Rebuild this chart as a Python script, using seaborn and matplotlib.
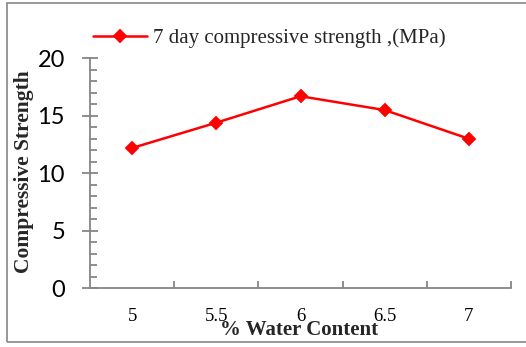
import matplotlib
matplotlib.use("Agg")
import matplotlib.pyplot as plt
import seaborn as sns
import pandas as pd
from matplotlib.patches import Rectangle
from matplotlib.ticker import MultipleLocator, FixedLocator

water_content = ["5", "5.5", "6", "6.5", "7"]
strength_7day = [12.2, 14.4, 16.7, 15.5, 13.0]
series_label = "7 day compressive strength ,(MPa)"
x_label = "% Water Content"
y_label = "Compressive Strength"
y_ticks = [0, 5, 10, 15, 20]

df = pd.DataFrame({"water": water_content, "strength": strength_7day})

sns.set_style("white")
fig = plt.figure(figsize=(5.26, 3.47), dpi=100)
ax = fig.add_axes([90/526, 1-288.3/347, (511-90)/526, (288.3-58.3)/347])

sns.pointplot(data=df, x="water", y="strength", color="#FF0000", markers="D",
              linewidth=1.8, markersize=6, ax=ax, label=series_label, errorbar=None)

ax.set_xlim(-0.5, 4.5)
ax.set_ylim(0, 20)
grey = "#868686"
for s in ["top", "right"]:
    ax.spines[s].set_visible(False)
for s in ["left", "bottom"]:
    ax.spines[s].set_color(grey)
    ax.spines[s].set_linewidth(1.3)

ax.set_yticks(y_ticks)
ax.yaxis.set_minor_locator(MultipleLocator(1))
ax.tick_params(axis="y", which="major", direction="inout", length=12, width=1.3,
               color=grey, left=True, pad=12, labelsize=17, labelcolor="black")
ax.tick_params(axis="y", which="minor", direction="in", length=5, width=1.3,
               color=grey, left=True)
for t in ax.get_yticklabels():
    t.set_fontfamily("Lato")

ax.set_xticks(range(len(water_content)))
ax.set_xticklabels(water_content)
ax.xaxis.set_minor_locator(FixedLocator([0.5, 1.5, 2.5, 3.5, 4.5]))
ax.tick_params(axis="x", which="major", length=0, pad=14, labelsize=13.5, labelcolor="black")
ax.tick_params(axis="x", which="minor", direction="in", length=5, width=1.3,
               color=grey, bottom=True)
for t in ax.get_xticklabels():
    t.set_fontfamily("Liberation Serif")

ax.set_xlabel("")
ax.set_ylabel("")
fig.text(299/526, 1-330/347, x_label, ha="center", va="center",
         fontfamily="Liberation Serif", fontweight="bold", fontsize=15)
fig.text(24/526, 1-172/347, y_label, ha="center", va="center", rotation=90,
         fontfamily="Liberation Serif", fontweight="bold", fontsize=15.5)

leg = ax.legend(loc="center left", bbox_to_anchor=(93/526, 1-38/347),
                bbox_transform=fig.transFigure, frameon=False,
                prop={"family": "Liberation Serif", "size": 15},
                handlelength=2.6, handletextpad=0.3, borderpad=0, borderaxespad=0)

fig.add_artist(Rectangle((7/526, 1-342/347), 1.0, (342-3)/347,
                         transform=fig.transFigure, fill=False,
                         edgecolor=grey, linewidth=1.2, clip_on=False))

fig.savefig("out.png", dpi=100)
